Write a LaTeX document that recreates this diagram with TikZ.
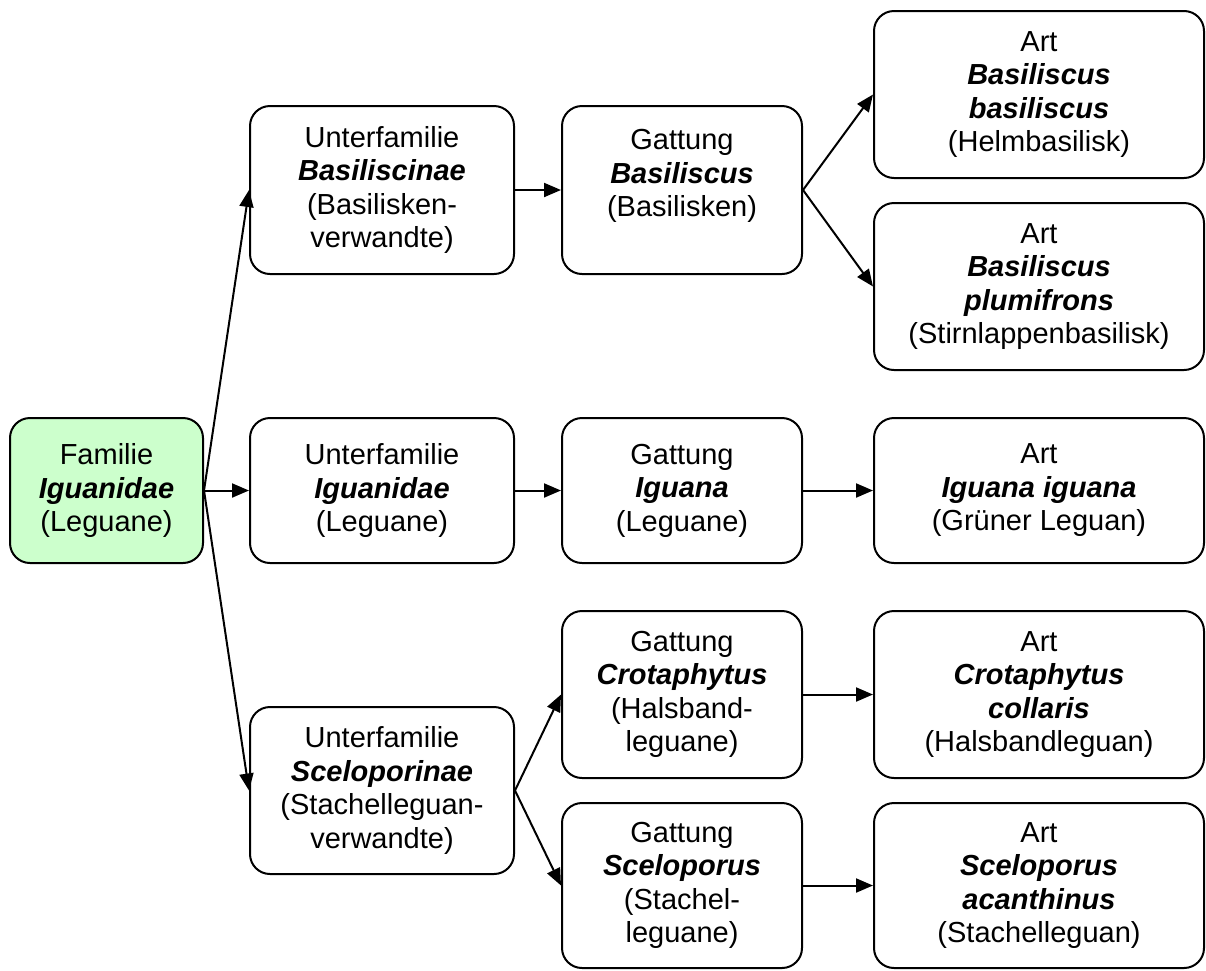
\documentclass[tikz,border=0pt]{standalone}
\usepackage{fontspec}
\setmainfont{Liberation Sans}
\usetikzlibrary{arrows.meta}
\definecolor{famgreen}{HTML}{CCFFCC}
\newcommand{\sci}[1]{\textbf{\textit{#1}}}
\tikzset{
    taxon/.style={draw, line width=2pt, rounded corners=20pt, align=center,
        inner sep=0pt, font=\fontsize{29}{33.5}\selectfont},
    link/.style={line width=2pt, -{Triangle[length=17pt,width=14pt]}}
}
\begin{document}
\begin{tikzpicture}[x=1pt,y=-1pt]
    \useasboundingbox (0,0) rectangle (1206,970);
    \node[taxon, fill=famgreen, minimum width=193pt, minimum height=145pt] (fam) at (106.5,490.5) {Familie\\\sci{Iguanidae}\\(Leguane)};
    \node[taxon, minimum width=264pt, minimum height=168pt] (ufbas) at (382,190) {Unterfamilie\\\sci{Basiliscinae}\\(Basilisken-\\verwandte)};
    \node[taxon, minimum width=264pt, minimum height=145pt] (ufigu) at (382,490.5) {Unterfamilie\\\sci{Iguanidae}\\(Leguane)};
    \node[taxon, minimum width=264pt, minimum height=167pt] (ufsce) at (382,790.5) {Unterfamilie\\\sci{Sceloporinae}\\(Stachelleguan-\\verwandte)};
    \node[taxon, minimum width=240pt, minimum height=168pt] (gbas) at (682,190) {Gattung\\\sci{Basiliscus}\\(Basilisken)\\\mbox{}};
    \node[taxon, minimum width=240pt, minimum height=145pt] (gigu) at (682,490.5) {Gattung\\\sci{Iguana}\\(Leguane)};
    \node[taxon, minimum width=240pt, minimum height=167pt] (gcro) at (682,694.5) {Gattung\\\sci{Crotaphytus}\\(Halsband-\\leguane)};
    \node[taxon, minimum width=240pt, minimum height=165pt] (gsce) at (682,885.5) {Gattung\\\sci{Sceloporus}\\(Stachel-\\leguane)};
    \node[taxon, minimum width=330pt, minimum height=167pt] (abas) at (1039,94.5) {Art\\\sci{Basiliscus}\\\sci{basiliscus}\\(Helmbasilisk)};
    \node[taxon, minimum width=330pt, minimum height=167pt] (aplu) at (1039,286.5) {Art\\\sci{Basiliscus}\\\sci{plumifrons}\\(Stirnlappenbasilisk)};
    \node[taxon, minimum width=330pt, minimum height=145pt] (aigu) at (1039,490.5) {Art\\\sci{Iguana iguana}\\(Grüner Leguan)};
    \node[taxon, minimum width=330pt, minimum height=167pt] (acro) at (1039,694.5) {Art\\\sci{Crotaphytus}\\\sci{collaris}\\(Halsbandleguan)};
    \node[taxon, minimum width=330pt, minimum height=165pt] (asce) at (1039,885.5) {Art\\\sci{Sceloporus}\\\sci{acanthinus}\\(Stachelleguan)};
    \foreach \from/\to in {fam/ufbas, fam/ufigu, fam/ufsce, ufbas/gbas, ufigu/gigu, ufsce/gcro, ufsce/gsce, gbas/abas, gbas/aplu, gigu/aigu, gcro/acro, gsce/asce}
        \draw[link] (\from.east) -- (\to.west);
\end{tikzpicture}
\end{document}
